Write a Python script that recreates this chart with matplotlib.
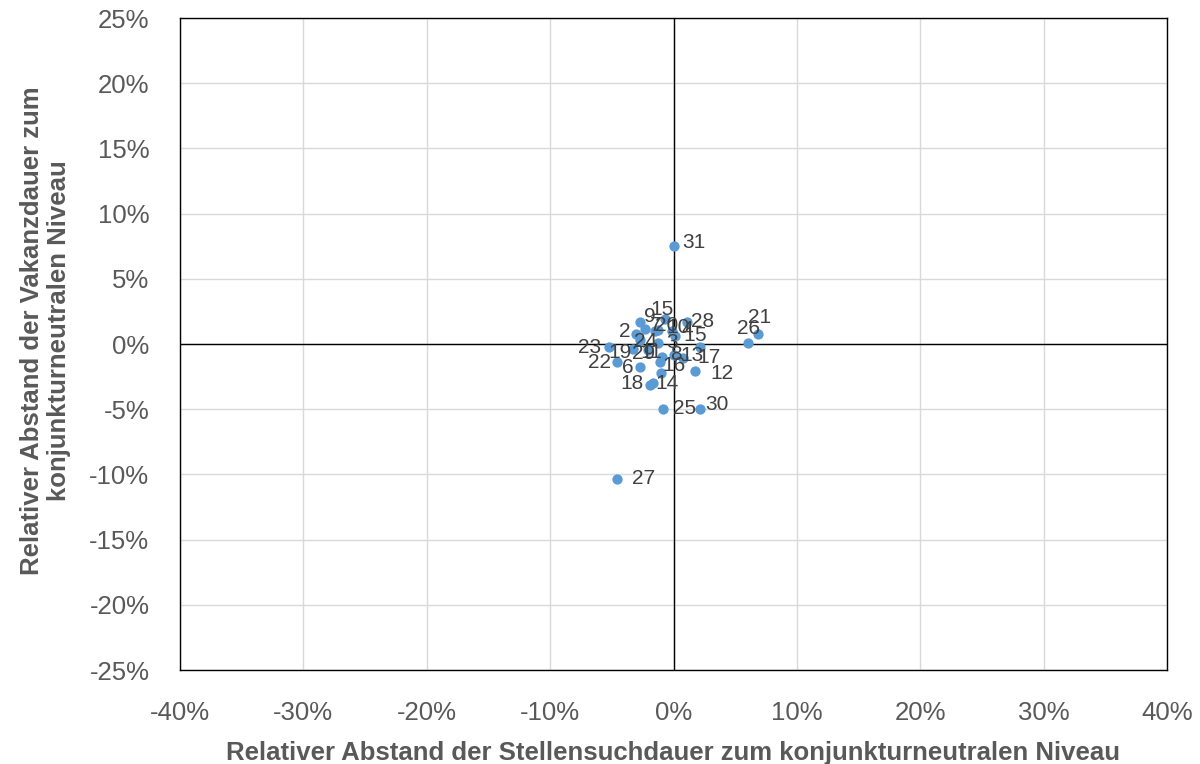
import matplotlib
matplotlib.use("Agg")
import matplotlib.pyplot as plt
import numpy as np

plt.rcParams['font.family'] = ['Liberation Sans', 'DejaVu Sans']

# Relative distances in percent (x: Stellensuchdauer, y: Vakanzdauer)
labels = [str(i) for i in range(1, 32)]
x_vals = [0.12, -3.04, -1.26, -0.12, 2.15, -2.71, -2.31, -0.93, -2.71, -1.26,
          -2.07, 1.74, 0.04, -1.66, -0.69, -1.01, 0.77, -1.90, -3.28, -1.50,
          6.85, -4.58, -5.23, -2.71, -0.85, 6.04, -4.58, 1.09, -1.09, 2.15, 0.04]
y_vals = [0.61, 0.77, 0.08, 1.00, -0.23, -1.76, 1.15, -1.00, 1.69, 1.07,
          -0.46, -2.07, -0.84, -2.99, 1.92, -2.22, -1.07, -3.14, -0.38, 1.00,
          0.77, -1.38, -0.23, 0.31, -4.98, 0.08, -10.35, 1.69, -1.38, -4.98, 7.52]

# label offsets (pixels) relative to each point
label_dx = [8, -17, 8, 9, -6, -18, 5, 8, 4, 8, -8, 15, 6, 2, -15, 1, 14, -30, -25, 0,
            -10, -29, -31, -6, 10, -11, 15, 4, -28, 5, 8]
label_dy = [1, 2, 0, 1, 12, -1, 4, 3, 5, 3, -2, -2, -1, 0, 9, 7, 0, 1, -4, 5,
            16, 0, 0, -2, 0, 14, 0, 0, 9, 4, 3]

fig = plt.figure(figsize=(12, 7.64), dpi=100)
ax = fig.add_axes([0.15, 0.123, 0.8225, 0.8534])

ax.scatter(x_vals, y_vals, s=55, color='#5B9BD5', zorder=3, linewidths=0)
for lab, xv, yv, dx, dy in zip(labels, x_vals, y_vals, label_dx, label_dy):
    ax.annotate(lab, (xv, yv), xytext=(dx, dy), textcoords='offset pixels',
                ha='left', va='center', fontsize=15, color='#404040', zorder=4)

ax.set_xlim(-40, 40)
ax.set_ylim(-25, 25)
xt = np.arange(-40, 41, 10)
yt = np.arange(-25, 26, 5)
ax.set_xticks(xt)
ax.set_yticks(yt)
ax.set_xticklabels([f"{v}%" for v in xt])
ax.set_yticklabels([f"{v}%" for v in yt])
ax.tick_params(length=0, labelsize=18.5, labelcolor='#595959', pad=22)
ax.grid(True, color='#D9D9D9', linewidth=1)
ax.set_axisbelow(True)
ax.axhline(0, color='black', linewidth=1, zorder=2)
ax.axvline(0, color='black', linewidth=1, zorder=2)
for sp in ax.spines.values():
    sp.set_color('black')
    sp.set_linewidth(1)

ax.set_xlabel("Relativer Abstand der Stellensuchdauer zum konjunkturneutralen Niveau",
              fontsize=18.5, fontweight='bold', color='#595959', labelpad=12)
ax.set_ylabel("Relativer Abstand der Vakanzdauer zum\nkonjunkturneutralen Niveau",
              fontsize=18.5, fontweight='bold', color='#595959')
ax.yaxis.set_label_coords(-0.11, 0.521)

fig.savefig("out.png", dpi=100)
